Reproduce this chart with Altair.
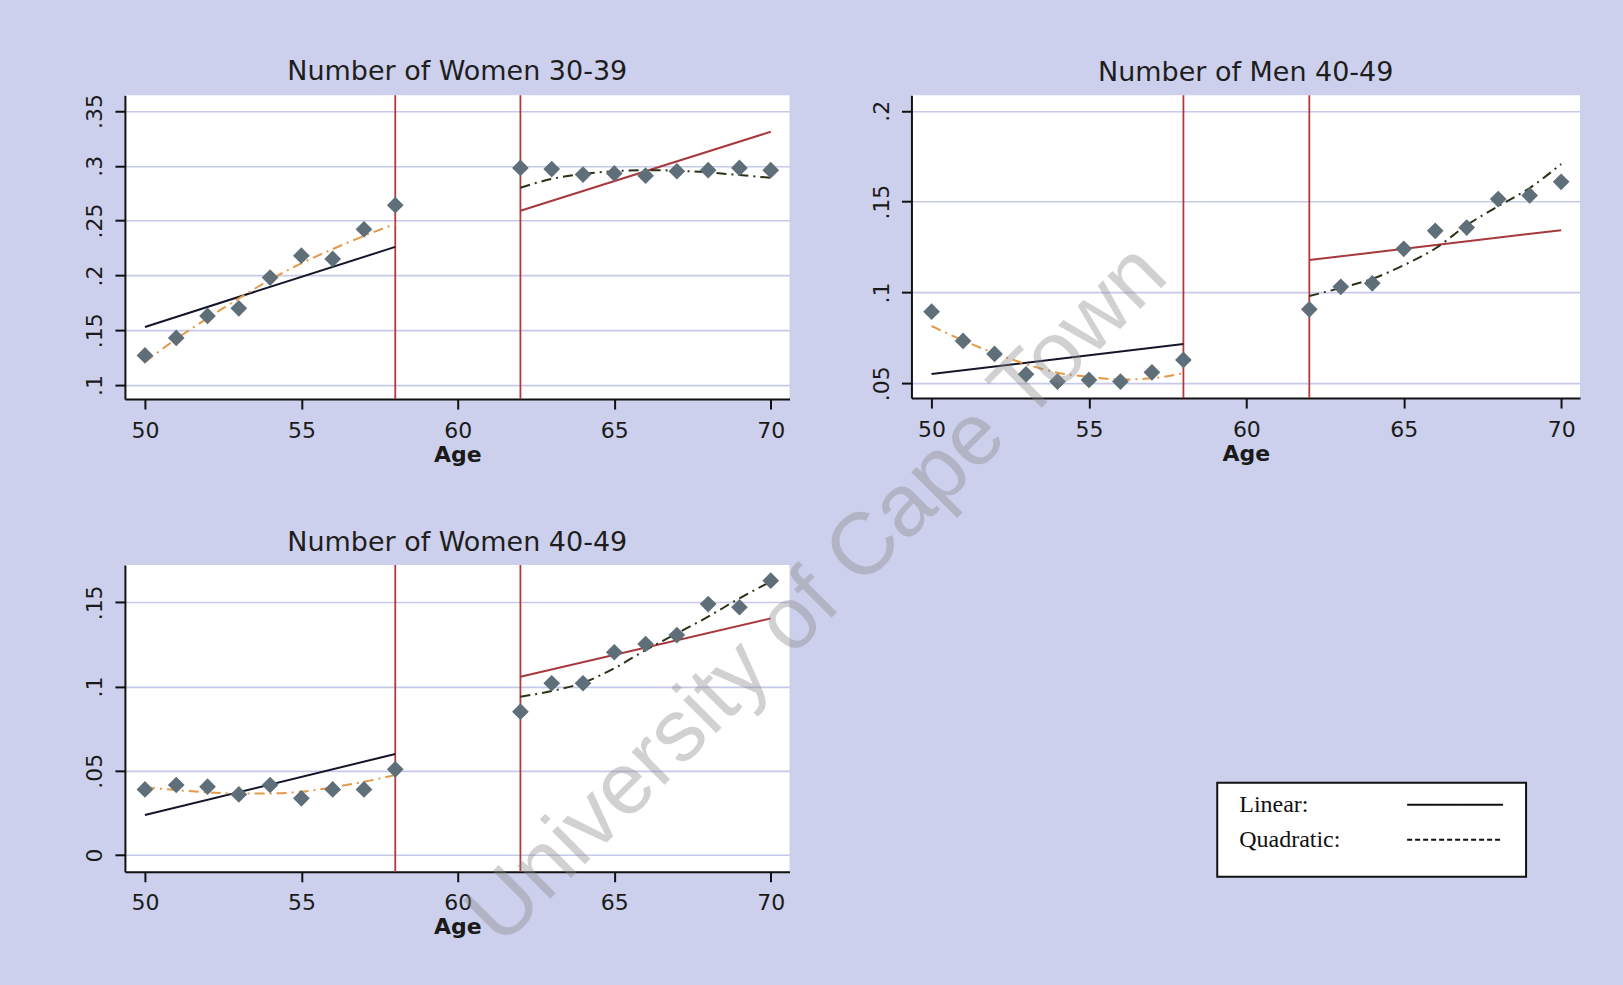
import altair as alt
import pandas as pd

# Ages on either side of the excluded window
AGES_PRE = [50, 51, 52, 53, 54, 55, 56, 57, 58]
AGES_POST = [62, 63, 64, 65, 66, 67, 68, 69, 70]
CUTOFFS = [58, 62]
X_TICKS = [50, 55, 60, 65, 70]

# Number of Women 30-39
w3039_obs_pre = [0.127, 0.143, 0.163, 0.170, 0.198, 0.218, 0.215, 0.242, 0.264]
w3039_obs_post = [0.298, 0.297, 0.292, 0.293, 0.291, 0.295, 0.296, 0.298, 0.296]
w3039_lin_pre = [0.153, 0.226]
w3039_lin_post = [0.259, 0.331]
w3039_quad_pre = [0.121, 0.142, 0.161, 0.179, 0.196, 0.211, 0.224, 0.236, 0.247]
w3039_quad_post = [0.280, 0.288, 0.2925, 0.295, 0.296, 0.2955, 0.294, 0.2915, 0.289]

# Number of Men 40-49
m4049_obs_pre = [0.0894, 0.0733, 0.0661, 0.0549, 0.0509, 0.0518, 0.0509, 0.0560, 0.0628]
m4049_obs_post = [0.0907, 0.1031, 0.1050, 0.1240, 0.1339, 0.1357, 0.1514, 0.1534, 0.1609]
m4049_lin_pre = [0.0551, 0.0716]
m4049_lin_post = [0.1178, 0.1343]
m4049_quad_pre = [0.0815, 0.0735, 0.0665, 0.0605, 0.0558, 0.0535, 0.0520, 0.0527, 0.0555]
m4049_quad_post = [0.0980, 0.1025, 0.1075, 0.1150, 0.1242, 0.1370, 0.1475, 0.1575, 0.1707]

# Number of Women 40-49
w4049_obs_pre = [0.0390, 0.0416, 0.0406, 0.0360, 0.0416, 0.0337, 0.0390, 0.0390, 0.0509]
w4049_obs_post = [0.0851, 0.1020, 0.1020, 0.1204, 0.1253, 0.1306, 0.1490, 0.1471, 0.1629]
w4049_lin_pre = [0.0238, 0.0600]
w4049_lin_post = [0.1059, 0.1405]
w4049_quad_pre = [0.0402, 0.0386, 0.0372, 0.0366, 0.0366, 0.0376, 0.0402, 0.0435, 0.0475]
w4049_quad_post = [0.0940, 0.0974, 0.1023, 0.1109, 0.1217, 0.1316, 0.1415, 0.1524, 0.1623]

LEGEND_LABELS = ["Linear:", "Quadratic:"]
WATERMARK = "University of Cape Town"

X_DOMAIN = [49.36, 70.6]
BG = "#CDD0EC"
FONT = "DejaVu Sans"

Y_LABEL_EXPR = "datum.value == 0 ? '0' : replace(toString(datum.value), '0.', '.')"


def panel(title, obs_pre, obs_post, lin_pre, lin_post, quad_pre, quad_post,
          y_domain, y_ticks, width, height):
    x_enc = alt.X(
        "age:Q",
        scale=alt.Scale(domain=X_DOMAIN, nice=False, zero=False),
        axis=alt.Axis(values=X_TICKS, title="Age", grid=False, labelPadding=11,
                      titlePadding=3),
    )
    y_enc = alt.Y(
        "share:Q",
        scale=alt.Scale(domain=y_domain, nice=False, zero=False),
        axis=alt.Axis(values=y_ticks, title=None, grid=True, labelAngle=270,
                      labelExpr=Y_LABEL_EXPR, labelPadding=8),
    )

    obs = pd.DataFrame({"age": AGES_PRE + AGES_POST, "share": obs_pre + obs_post})
    lpre = pd.DataFrame({"age": [AGES_PRE[0], AGES_PRE[-1]], "share": lin_pre})
    lpost = pd.DataFrame({"age": [AGES_POST[0], AGES_POST[-1]], "share": lin_post})
    qpre = pd.DataFrame({"age": AGES_PRE, "share": quad_pre})
    qpost = pd.DataFrame({"age": AGES_POST, "share": quad_post})
    cuts = pd.DataFrame({"age": CUTOFFS})

    cut_rules = alt.Chart(cuts).mark_rule(color="#B23A3A", strokeWidth=1.8).encode(x=x_enc)
    lin_pre_line = alt.Chart(lpre).mark_line(color="#15152A", strokeWidth=2).encode(x=x_enc, y=y_enc)
    lin_post_line = alt.Chart(lpost).mark_line(color="#A8383C", strokeWidth=2).encode(x=x_enc, y=y_enc)
    quad_pre_line = alt.Chart(qpre).mark_line(
        color="#E3994A", strokeWidth=2, strokeDash=[10, 5, 2, 5], interpolate="monotone"
    ).encode(x=x_enc, y=y_enc)
    quad_post_line = alt.Chart(qpost).mark_line(
        color="#2B3216", strokeWidth=2, strokeDash=[10, 5, 2, 5], interpolate="monotone"
    ).encode(x=x_enc, y=y_enc)
    points = alt.Chart(obs).mark_point(
        shape="diamond", filled=True, size=280, color="#5F6F79", opacity=1
    ).encode(x=x_enc, y=y_enc)

    return alt.layer(
        cut_rules, lin_pre_line, quad_pre_line, lin_post_line, quad_post_line, points
    ).properties(
        width=width,
        height=height,
        title=alt.TitleParams(title, fontSize=27, font=FONT, fontWeight="normal",
                              color="#1E1E1E", baseline="alphabetic", offset=-14,
                              anchor="middle", frame="group"),
    )


p1 = panel("Number of Women 30-39", w3039_obs_pre, w3039_obs_post, w3039_lin_pre,
           w3039_lin_post, w3039_quad_pre, w3039_quad_post,
           [0.0872, 0.3643], [0.1, 0.15, 0.2, 0.25, 0.3, 0.35], 665, 304)
p2 = panel("Number of Men 40-49", m4049_obs_pre, m4049_obs_post, m4049_lin_pre,
           m4049_lin_post, m4049_quad_pre, m4049_quad_post,
           [0.0418, 0.2086], [0.05, 0.1, 0.15, 0.2], 669, 303)
p3 = panel("Number of Women 40-49", w4049_obs_pre, w4049_obs_post, w4049_lin_pre,
           w4049_lin_post, w4049_quad_pre, w4049_quad_post,
           [-0.0099, 0.1722], [0, 0.05, 0.1, 0.15], 665, 307)

# Key box explaining the two fit types
legend_rows = pd.DataFrame({"row": [0, 1], "label": LEGEND_LABELS})
row_y = alt.Y("row:Q", scale=alt.Scale(domain=[0, 1], range=[240, 275]), axis=None)
key_box = alt.Chart(pd.DataFrame({"k": [0]})).mark_rect(
    fill="white", stroke="#111", strokeWidth=2
).encode(x=alt.value(306), x2=alt.value(615), y=alt.value(218), y2=alt.value(312))
key_text = alt.Chart(legend_rows).mark_text(
    align="left", baseline="middle", font="Liberation Serif", fontSize=24, color="#111"
).encode(x=alt.value(328), y=row_y, text="label:N")
key_lines = alt.Chart(legend_rows).mark_rule(color="#111", strokeWidth=2).encode(
    x=alt.value(496), x2=alt.value(592), y=row_y,
    strokeDash=alt.StrokeDash("label:N", scale=alt.Scale(domain=LEGEND_LABELS,
                                                         range=[[1, 0], [5, 3]]),
                              legend=None),
)
mark_note = alt.Chart(pd.DataFrame({"note": [WATERMARK]})).mark_text(
    angle=315, fontSize=88, font="Liberation Sans", color="#888888", opacity=0.38,
    align="center", baseline="middle"
).encode(x=alt.value(-94), y=alt.value(30), text="note:N")

key_panel = alt.layer(key_box, key_text, key_lines, mark_note).properties(
    width=669, height=307,
    view=alt.ViewBackground(fill="transparent", stroke="transparent"),
)

chart = alt.concat(
    p1, p2, p3, key_panel, columns=2,
    spacing=alt.RowColnumber(row=166, column=122), bounds="flush",
).properties(
    background=BG,
    padding={"left": 83, "top": 58, "right": 42, "bottom": 70},
).configure_view(
    fill="white", stroke=None
).configure_axis(
    domainColor="#111", domainWidth=2, tickColor="#111", tickWidth=2, tickSize=10,
    labelFont=FONT, labelFontSize=22, labelColor="#1A1A1A",
    titleFont=FONT, titleFontSize=22, titleFontWeight="bold", titleColor="#1A1A1A",
    gridColor="#C6C9E8", gridWidth=1.6,
)

chart.save("out.html", embed_options={"renderer": "svg", "actions": False})
